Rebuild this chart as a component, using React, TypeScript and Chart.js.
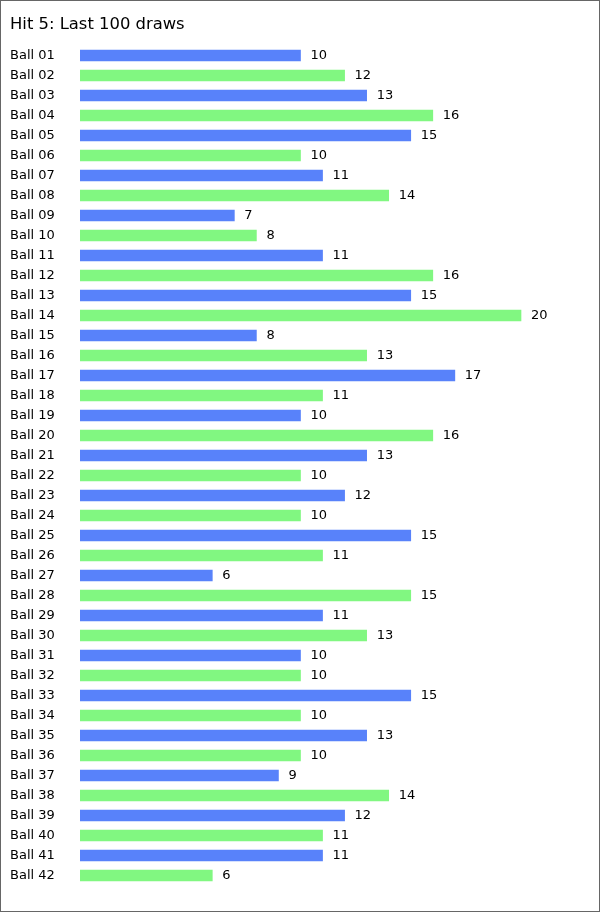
import React, { useEffect, useRef } from "react";
import { Chart, registerables } from "chart.js";

Chart.register(...registerables);

const TITLE = "Hit 5: Last 100 draws";
const BALLS = [
  "Ball 01", "Ball 02", "Ball 03", "Ball 04", "Ball 05", "Ball 06", "Ball 07",
  "Ball 08", "Ball 09", "Ball 10", "Ball 11", "Ball 12", "Ball 13", "Ball 14",
  "Ball 15", "Ball 16", "Ball 17", "Ball 18", "Ball 19", "Ball 20", "Ball 21",
  "Ball 22", "Ball 23", "Ball 24", "Ball 25", "Ball 26", "Ball 27", "Ball 28",
  "Ball 29", "Ball 30", "Ball 31", "Ball 32", "Ball 33", "Ball 34", "Ball 35",
  "Ball 36", "Ball 37", "Ball 38", "Ball 39", "Ball 40", "Ball 41", "Ball 42",
];
const HITS = [
  10, 12, 13, 16, 15, 10, 11, 14, 7, 8, 11, 16, 15, 20,
  8, 13, 17, 11, 10, 16, 13, 10, 12, 10, 15, 11, 6, 15,
  11, 13, 10, 10, 15, 10, 13, 10, 9, 14, 12, 11, 11, 6,
];
const BLUE = "#5882FA";
const GREEN = "#81F781";
const FONT = "'DejaVu Sans', Verdana, sans-serif";

const valueLabels = {
  id: "valueLabels",
  afterDatasetsDraw(chart: any) {
    const ctx = chart.ctx;
    const meta = chart.getDatasetMeta(0);
    ctx.save();
    ctx.font = `13px ${FONT}`;
    ctx.fillStyle = "#000";
    ctx.textAlign = "left";
    ctx.textBaseline = "middle";
    meta.data.forEach((bar: any, i: number) => {
      ctx.fillText(String(HITS[i]), bar.x + 10, bar.y);
    });
    ctx.restore();
  },
};

export default function App() {
  const ref = useRef<HTMLCanvasElement>(null);
  useEffect(() => {
    const chart = new Chart(ref.current!, {
      type: "bar",
      data: {
        labels: BALLS,
        datasets: [
          {
            data: HITS,
            backgroundColor: HITS.map((_, i) => (i % 2 === 0 ? BLUE : GREEN)),
            barThickness: 11,
            borderWidth: 0,
          },
        ],
      },
      options: {
        indexAxis: "y",
        animation: false,
        responsive: false,
        layout: { padding: { left: 9, right: 11.85, top: 0, bottom: 25.5 } },
        plugins: {
          legend: { display: false },
          tooltip: { enabled: false },
          title: {
            display: true,
            text: TITLE,
            align: "start",
            color: "#000",
            font: { family: FONT, size: 16.4, weight: "normal", lineHeight: 1.2 },
            padding: { top: 13.8, bottom: 11.02 },
          },
        },
        scales: {
          x: { display: false, min: 0, max: 23 },
          y: {
            grid: { display: false },
            border: { display: false },
            afterFit(scale: any) {
              scale.width = 70;
            },
            ticks: {
              autoSkip: false,
              crossAlign: "far",
              color: "#000",
              padding: 0,
              font: { family: FONT, size: 13 },
            },
          },
        },
      },
      plugins: [valueLabels],
    } as any);
    return () => chart.destroy();
  }, []);
  return (
    <div
      style={{
        position: "absolute",
        left: 0,
        top: 0,
        width: 600,
        height: 912,
        boxSizing: "border-box",
        border: "1px solid #666",
        background: "#fff",
      }}
    >
      <canvas ref={ref} width={598} height={910} style={{ display: "block" }} />
    </div>
  );
}
